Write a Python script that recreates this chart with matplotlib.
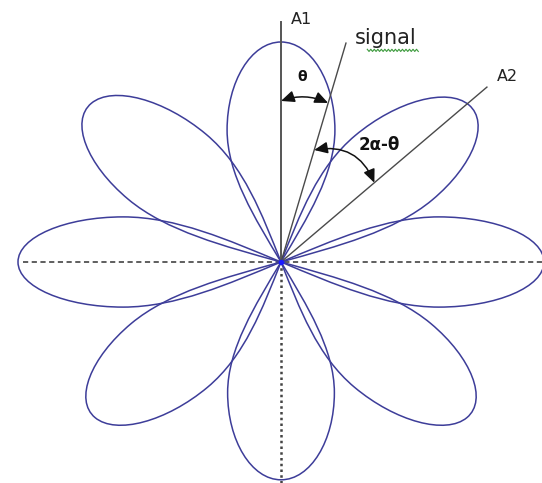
import numpy as np
import matplotlib
matplotlib.use("Agg")
from matplotlib import pyplot as plt
from matplotlib.path import Path
from matplotlib.patches import PathPatch
from matplotlib.transforms import Affine2D

# petals of the pattern: direction (deg) and length (centre -> tip)
petal_angles = [0, 45, 90, 135, 180, 225, 270, 315]
petal_lengths = [1.0, 1.01, 1.0, 1.02, 1.0, 1.0, 0.99, 1.0]
# one petal outline (along +x, length 1): widest point and the neck control
petal_widest = (0.6, 0.205)
petal_neck = (0.2, 0.1)
petal_shoulder_x = 0.4

# reference lines (end points, centre is 0,0)
a1_end = (0.0, 1.092)
signal_end = (0.247, 0.995)
a2_end = (0.783, 0.795)

# angle arrows: start -> end
theta_arc = [(0.0, 0.732), (0.179, 0.723)]
alpha_arc = [(0.126, 0.509), (0.355, 0.36)]

petal_color = "#3d3d99"

wx, wy = petal_widest
nx, ny = petal_neck
kap = 0.552
upper = [(nx, ny), (petal_shoulder_x, wy), (wx, wy),
         (wx + kap * (1 - wx), wy), (1, kap * wy), (1, 0)]
lower = [(x, -y) for x, y in upper[:-1][::-1]] + [(0, 0)]
petal_path = Path([(0, 0)] + upper + lower,
                  [Path.MOVETO] + [Path.CURVE4] * 12)

fig = plt.figure(figsize=(5.42, 4.83), dpi=100)
ax = fig.add_axes([0, 0, 1, 1])
ax.set_xlim(-281 / 263, 261 / 263)
ax.set_ylim(-221 / 220, 262 / 220)
ax.axis("off")

for ang, length in zip(petal_angles, petal_lengths):
    tr = Affine2D().scale(length).rotate_deg(ang) + ax.transData
    ax.add_patch(PathPatch(petal_path, transform=tr, facecolor="none",
                           edgecolor=petal_color, lw=1.1, zorder=2))

# horizontal dashed axis and vertical dotted one
ax.plot([-0.98, 1.0], [0, 0], color="#333333", lw=1.1,
        dashes=(3.4, 2.3), zorder=1)
ax.plot([0, 0], [0, -1.01], color="#444444", lw=1.8,
        dashes=(1.0, 1.3), zorder=1)

# A1, signal, A2
ax.plot([0, a1_end[0]], [0, a1_end[1]], color="#555555", lw=1.4, zorder=3)
ax.plot([0, signal_end[0]], [0, signal_end[1]], color="#4a4a4a", lw=1.0, zorder=3)
ax.plot([0, a2_end[0]], [0, a2_end[1]], color="#4a4a4a", lw=1.0, zorder=3)
ax.plot([0], [0], marker="o", ms=3, color="#1a1aff", zorder=4)

ax.text(0.038, 1.10, "A1", fontsize=11.5, va="center", ha="left", color="#222222")
ax.text(0.821, 0.845, "A2", fontsize=11.5, va="center", ha="left", color="#222222")
ax.text(0.281, 0.991, "signal", fontsize=15, va="baseline", ha="left", color="#222222")

# spell-check squiggle under "signal"
sx = np.linspace(0.328, 0.522, 30)
sy = 0.962 + np.where(np.arange(30) % 2 == 0, 0.005, -0.005)
ax.plot(sx, sy, color="#3c9a3c", lw=0.8)

ax.text(0.080, 0.841, "\u03b8", fontsize=10, fontweight="bold",
        ha="center", va="center", color="#111111")
ax.text(0.375, 0.533, "2\u03b1-\u03b8", fontsize=12, fontweight="bold",
        ha="center", va="center", color="#111111")

arrow_kw = dict(arrowstyle="<|-|>,head_length=0.8,head_width=0.35",
                color="#111111", lw=1.1, mutation_scale=10,
                shrinkA=0, shrinkB=0)
ax.annotate("", xy=theta_arc[1], xytext=theta_arc[0],
            arrowprops=dict(connectionstyle="arc3,rad=-0.2", **arrow_kw))
ax.annotate("", xy=alpha_arc[1], xytext=alpha_arc[0],
            arrowprops=dict(connectionstyle="arc3,rad=-0.4", **arrow_kw))

fig.savefig("out.png", dpi=100, facecolor="white")
